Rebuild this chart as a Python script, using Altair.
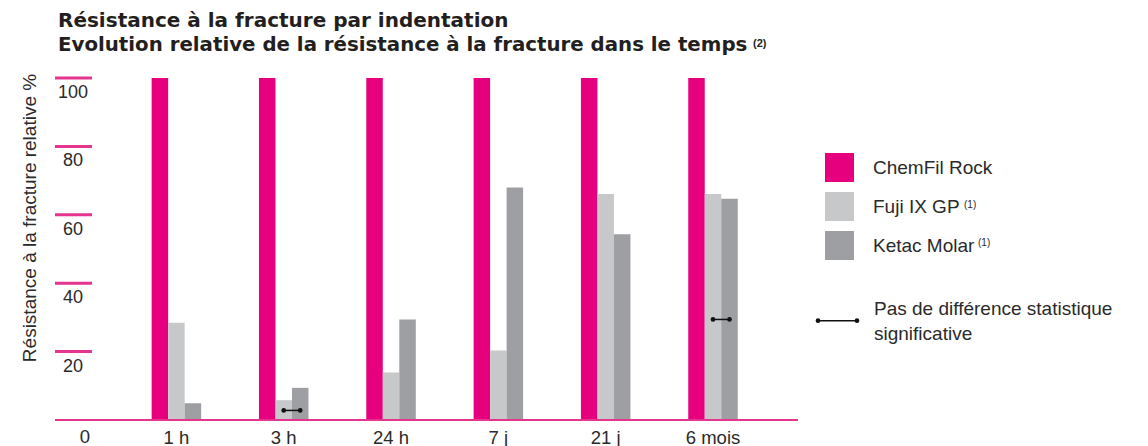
import altair as alt
import pandas as pd

# ---------------- data ----------------
times = ["1 h", "3 h", "24 h", "7 j", "21 j", "6 mois"]
series = ["ChemFil Rock", "Fuji IX GP", "Ketac Molar"]
chemfil = [100, 100, 100, 100, 100, 100]
fuji = [28.4, 5.8, 13.9, 20.3, 66.1, 66.1]
ketac = [4.9, 9.4, 29.4, 68.0, 54.3, 64.7]
colors = ["#E6007E", "#C7C8CA", "#9D9FA2"]
y_ticks = [20, 40, 60, 80, 100]
sig_times = ["3 h", "6 mois"]
sig_values = [2.8, 29.4]
sig_pair = ["Fuji IX GP", "Ketac Molar"]

title_1 = "Résistance à la fracture par indentation"
title_2 = "Evolution relative de la résistance à la fracture dans le temps"
y_title = "Résistance à la fracture relative %"
sig_label = "Pas de différence statistique\nsignificative"

FONT = "Liberation Sans"
TFONT = "DejaVu Sans"
TXT = "#2a2a2a"
TCOL = "#231F20"
PINK_LINE = "#E5358F"

rows = []
for i, t in enumerate(times):
    for s, vals in zip(series, [chemfil, fuji, ketac]):
        rows.append({"time": t, "series": s, "value": vals[i]})
df = pd.DataFrame(rows)

sig_df = pd.DataFrame([
    {"time": t, "series": s, "value": v}
    for t, v in zip(sig_times, sig_values) for s in sig_pair
])
ticks_df = pd.DataFrame({"v": y_ticks})
base_df = pd.DataFrame({"v": [0]})
one = pd.DataFrame({"a": [0]})

W, H = 743, 342

x_scale = alt.Scale(domain=times, paddingInner=0.5387, paddingOuter=0.731,
                    align=0.616, round=False)
xo_scale = alt.Scale(domain=series, paddingInner=0, paddingOuter=0, round=False)
y_scale = alt.Scale(domain=[0, 100], nice=False, zero=True)

x_axis = alt.Axis(labelFontSize=18.5, labelFont=FONT, labelColor=TXT, labelAngle=0,
                  domain=False, ticks=False, grid=False, labelPadding=17,
                  labelBaseline="middle", title=None)


def xenc():
    return alt.X("time:N", scale=x_scale, sort=times, axis=x_axis, title=None)


def xoenc():
    return alt.XOffset("series:N", scale=xo_scale, sort=series)


bars = alt.Chart(df).mark_bar(strokeWidth=0).encode(
    x=xenc(),
    xOffset=xoenc(),
    y=alt.Y("value:Q", scale=y_scale, axis=None),
    color=alt.Color(
        "series:N",
        scale=alt.Scale(domain=series, range=colors),
        sort=series,
        legend=alt.Legend(
            orient="none", legendX=770, legendY=75, title=None,
            symbolType="square", symbolSize=841, symbolStrokeWidth=0,
            symbolOpacity=1, labelFontSize=19, labelFont=FONT,
            labelColor=TXT, labelOffset=19, rowPadding=10, padding=0,
        ),
    ),
)

baseline = alt.Chart(base_df).mark_rule(color=PINK_LINE, strokeWidth=2.2).encode(
    y=alt.Y("v:Q", scale=y_scale, axis=None), x=alt.value(0), x2=alt.value(W)
)

tick_rules = alt.Chart(ticks_df).mark_rule(color=PINK_LINE, strokeWidth=3).encode(
    y=alt.Y("v:Q", scale=y_scale, axis=None), x=alt.value(0), x2=alt.value(37)
)
tick_labels = alt.Chart(ticks_df).mark_text(
    fontSize=18, font=FONT, color=TXT, align="center", baseline="middle", dy=15
).encode(y=alt.Y("v:Q", scale=y_scale, axis=None), x=alt.value(18), text="v:Q")

zero_label = alt.Chart(base_df).mark_text(
    fontSize=18.5, font=FONT, color=TXT, align="center", baseline="middle", dy=17
).encode(y=alt.Y("v:Q", scale=y_scale, axis=None), x=alt.value(30), text="v:Q")

sig_line = alt.Chart(sig_df).mark_line(color="#111111", strokeWidth=1.5).encode(
    x=xenc(),
    xOffset=xoenc(),
    y=alt.Y("value:Q", scale=y_scale, axis=None),
    detail="time:N",
)
sig_pts = alt.Chart(sig_df).mark_circle(color="#111111", size=22, opacity=1).encode(
    x=xenc(),
    xOffset=xoenc(),
    y=alt.Y("value:Q", scale=y_scale, axis=None),
)

y_title_mark = alt.Chart(one).mark_text(
    fontSize=19, font=FONT, color=TXT, angle=270, align="center", baseline="middle"
).encode(x=alt.value(-25), y=alt.value(140), text=alt.value(y_title))

title_l1 = alt.Chart(one).mark_text(
    fontSize=20, font=TFONT, fontWeight="bold", color=TCOL, align="left",
    baseline="alphabetic"
).encode(x=alt.value(3), y=alt.value(-51), text=alt.value(title_1))
title_l2 = alt.Chart(one).mark_text(
    fontSize=19.8, font=TFONT, fontWeight="bold", color=TCOL, align="left",
    baseline="alphabetic"
).encode(x=alt.value(3), y=alt.value(-27), text=alt.value(title_2))
title_sup = alt.Chart(one).mark_text(
    fontSize=11, font=FONT, fontWeight="bold", color=TCOL, align="left",
    baseline="alphabetic"
).encode(x=alt.value(698), y=alt.value(-31), text=alt.value("(2)"))

sup1 = alt.Chart(one).mark_text(
    fontSize=10, font=FONT, color=TXT, align="left", baseline="middle"
).encode(x=alt.value(909), y=alt.value(127), text=alt.value("(1)"))
sup2 = alt.Chart(one).mark_text(
    fontSize=10, font=FONT, color=TXT, align="left", baseline="middle"
).encode(x=alt.value(923), y=alt.value(165), text=alt.value("(1)"))

leg_line = alt.Chart(one).mark_rule(color="#111111", strokeWidth=1.5).encode(
    x=alt.value(763), x2=alt.value(802), y=alt.value(242.7)
)
leg_pt1 = alt.Chart(one).mark_circle(color="#111111", size=22, opacity=1).encode(
    x=alt.value(763), y=alt.value(242.7)
)
leg_pt2 = alt.Chart(one).mark_circle(color="#111111", size=22, opacity=1).encode(
    x=alt.value(802), y=alt.value(242.7)
)
leg_text = alt.Chart(one).mark_text(
    fontSize=19, font=FONT, color=TXT, align="left", baseline="middle",
    lineBreak="\n", lineHeight=25
).encode(x=alt.value(819), y=alt.value(231), text=alt.value(sig_label))

chart = alt.layer(
    bars, baseline, tick_rules, tick_labels, zero_label, sig_line, sig_pts,
    y_title_mark, title_l1, title_l2, title_sup, sup1, sup2,
    leg_line, leg_pt1, leg_pt2, leg_text,
).properties(
    width=W,
    height=H,
    autosize=alt.AutoSizeParams(type="none"),
    padding={"left": 47, "top": 70, "right": 342, "bottom": 26},
).configure_view(stroke=None)

chart.save("out.html", embed_options={"renderer": "svg", "actions": False})
